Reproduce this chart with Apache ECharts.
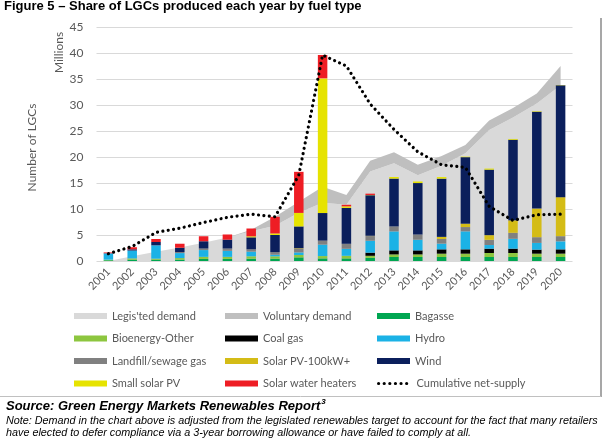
<!DOCTYPE html>
<html><head><meta charset="utf-8">
<script src="https://cdn.jsdelivr.net/npm/echarts@6/dist/echarts.min.js"></script>
<style>html,body{margin:0;padding:0;background:#fff}#c{width:604px;height:445px}</style>
</head><body><div id="c"></div>
<script>
const years = ['2001','2002','2003','2004','2005','2006','2007','2008','2009','2010','2011','2012','2013','2014','2015','2016','2017','2018','2019','2020'];
const yTicks = [0,5,10,15,20,25,30,35,40,45];
const legisDemand = [0,0.9,1.8,2.6,3.5,4.5,5.7,6.8,9.3,11.2,10.8,17.2,18.8,16.5,18.3,20.7,25.2,27.6,30.3,33.8];
const volDemand   = [0,0,0,0,0,0,0.3,1.7,2.1,3.1,1.9,2.1,2.1,2.0,1.9,1.6,1.8,1.8,1.9,3.7];
const bagasse  = [0.15,0.25,0.25,0.26,0.4,0.4,0.45,0.45,0.7,0.5,0.5,0.6,0.77,0.77,0.77,0.77,0.77,0.77,0.77,0.77];
const bioOther = [0.1,0.25,0.2,0.3,0.4,0.4,0.45,0.45,0.45,0.45,0.5,0.4,0.5,0.5,0.64,0.64,0.77,0.77,0.64,0.64];
const coalGas  = [0,0,0,0,0,0,0,0,0,0,0,0.6,0.77,0.77,0.83,0.83,0.83,0.83,0.77,0.83];
const hydro    = [1.2,1.5,2.56,0.96,1.3,1.15,0.9,0.3,0.5,2.2,1.35,2.3,3.65,2.05,1.1,3.46,0.7,1.9,1.3,1.54];
const landfill = [0,0,0,0.2,0.3,0.45,0.45,0.5,0.7,0.77,0.96,0.9,0.96,1.0,0.9,0.83,1.0,1.15,1.1,1.0];
const pv100    = [0,0,0,0,0,0,0,0,0.1,0,0,0.05,0,0,0.4,0.64,0.9,2.4,5.5,7.5];
const wind     = [0.05,0.25,0.64,0.83,1.4,1.7,2.3,3.3,4.2,5.3,6.9,7.8,9.2,9.9,11.2,12.8,12.6,15.5,18.6,21.5];
const smallPV  = [0,0,0,0,0,0,0.2,0.3,2.6,25.9,0.3,0.05,0.3,0.3,0.3,0.1,0.2,0.15,0.1,0.05];
const swh      = [0.15,0.4,0.58,0.77,0.96,1.0,1.5,3.2,7.9,4.5,0.3,0.25,0,0,0,0,0,0,0,0];
const cumulative = [1.4,2.8,5.5,6.3,7.4,8.4,9.0,8.5,16.5,39.6,37.5,30.2,25.3,21.0,18.5,18.0,10.5,7.8,8.9,9.0];

const FONT = 'Lato';
const GRAY_TEXT = '#595959';

const barDefs = [
  ['Bagasse', bagasse, '#00A651'],
  ['Bioenergy-Other', bioOther, '#8DC63F'],
  ['Coal gas', coalGas, '#000000'],
  ['Hydro', hydro, '#1BB2E6'],
  ['Landfill/sewage gas', landfill, '#808080'],
  ['Solar PV-100kW+', pv100, '#D4BC16'],
  ['Wind', wind, '#0B1F5C'],
  ['Small solar PV', smallPV, '#E6E300'],
  ['Solar water heaters', swh, '#EE1D24']
];

const series = [
  {name:"Legis'ted demand", type:'line', stack:'demand', data:legisDemand, symbol:'none',
   color:'#D9D9D9', lineStyle:{width:0}, areaStyle:{color:'#D9D9D9', opacity:1}, z:1, silent:true},
  {name:'Voluntary demand', type:'line', stack:'demand', data:volDemand, symbol:'none',
   color:'#BFBFBF', lineStyle:{width:0}, areaStyle:{color:'#BFBFBF', opacity:1}, z:1, silent:true}
];
barDefs.forEach(([n,d,c]) => series.push({name:n, type:'bar', stack:'fuel', data:d, color:c,
  itemStyle:{color:c}, barWidth:9.5, z:2}));
series.push({name:'Cumulative net-supply', type:'line', data:cumulative, symbol:'none', color:'#000',
  lineStyle:{color:'#000', width:3.2, type:[0.01,5.4], cap:'round'}, z:5});

const legendLayout = [
  ["Legis'ted demand",74,316], ['Voluntary demand',225,316], ['Bagasse',377,316],
  ['Bioenergy-Other',74,338.5], ['Coal gas',225,338.5], ['Hydro',377,338.5],
  ['Landfill/sewage gas',74,361], ['Solar PV-100kW+',225,361], ['Wind',377,361],
  ['Small solar PV',74,383.5], ['Solar water heaters',225,383.5], ['Cumulative net-supply',377,383.5]
];
const legends = legendLayout.map(([n,x,y]) => {
  const l = {data:[n], left:x, top:y-7, itemWidth:33, itemHeight:6, padding:0, selectedMode:false,
    textStyle:{fontFamily:FONT, fontSize:11, color:GRAY_TEXT, lineHeight:14}};
  if (n !== 'Cumulative net-supply') l.icon = 'rect';
  else { l.itemStyle = {opacity:0}; l.lineStyle = {color:'#000', width:3.2, type:[0.01,5.6], cap:'round'}; }
  return l;
});

const srcText = 'Source: Green Energy Markets Renewables Report';
const srcFont = 'italic bold 13px "Liberation Sans"';
const cv = document.createElement('canvas').getContext('2d');
cv.font = srcFont;
const srcW = cv.measureText(srcText).width;

const chart = echarts.init(document.getElementById('c'), null, {renderer:'canvas'});
chart.setOption({
  animation:false,
  backgroundColor:'#fff',
  grid:{left:96.5, right:31.5, top:27, bottom:184},
  legend: legends,
  xAxis:{type:'category', data:years, boundaryGap:true,
    axisLine:{show:false}, axisTick:{show:false},
    axisLabel:{rotate:45, margin:9, color:GRAY_TEXT, fontFamily:FONT, fontSize:11, interval:0}},
  yAxis:{type:'value', min:yTicks[0], max:yTicks[yTicks.length-1], interval:5,
    axisLine:{show:false}, axisTick:{show:false},
    axisLabel:{margin:13, color:GRAY_TEXT, fontFamily:FONT, fontSize:12},
    splitLine:{lineStyle:{color:'#D9D9D9', width:1}}},
  series: series,
  graphic:[
    {type:'text', x:4, y:6.5, style:{text:'Figure 5 – Share of LGCs produced each year by fuel type',
      font:'bold 13px "Liberation Sans"', fill:'#000', textVerticalAlign:'middle'}},
    {type:'text', x:59, y:52.5, rotation:Math.PI/2, style:{text:'Millions', font:'12px '+FONT, fill:GRAY_TEXT,
      textAlign:'center', textVerticalAlign:'middle'}},
    {type:'text', x:32.5, y:147.5, rotation:Math.PI/2, style:{text:'Number of LGCs', font:'12px '+FONT, fill:GRAY_TEXT,
      textAlign:'center', textVerticalAlign:'middle'}},
    {type:'line', shape:{x1:601, y1:18, x2:601, y2:397}, style:{stroke:'#8a8a8a', lineWidth:1.5}},
    {type:'line', shape:{x1:0, y1:396.5, x2:601, y2:396.5}, style:{stroke:'#c0c0c0', lineWidth:1}},
    {type:'text', x:6, y:406.5, style:{text:srcText, font:srcFont, fill:'#000', textVerticalAlign:'middle'}},
    {type:'text', x:6+srcW+1, y:402, style:{text:'3', font:'italic bold 8px "Liberation Sans"', fill:'#000', textVerticalAlign:'middle'}},
    {type:'text', x:6, y:420.5, style:{text:'Note: Demand in the chart above is adjusted from the legislated renewables target to account for the fact that many retailers',
      font:'italic 10.8px "Liberation Sans"', fill:'#000', textVerticalAlign:'middle'}},
    {type:'text', x:6, y:432.5, style:{text:'have elected to defer compliance via a 3-year borrowing allowance or have failed to comply at all.',
      font:'italic 10.8px "Liberation Sans"', fill:'#000', textVerticalAlign:'middle'}}
  ]
});
</script></body></html>
